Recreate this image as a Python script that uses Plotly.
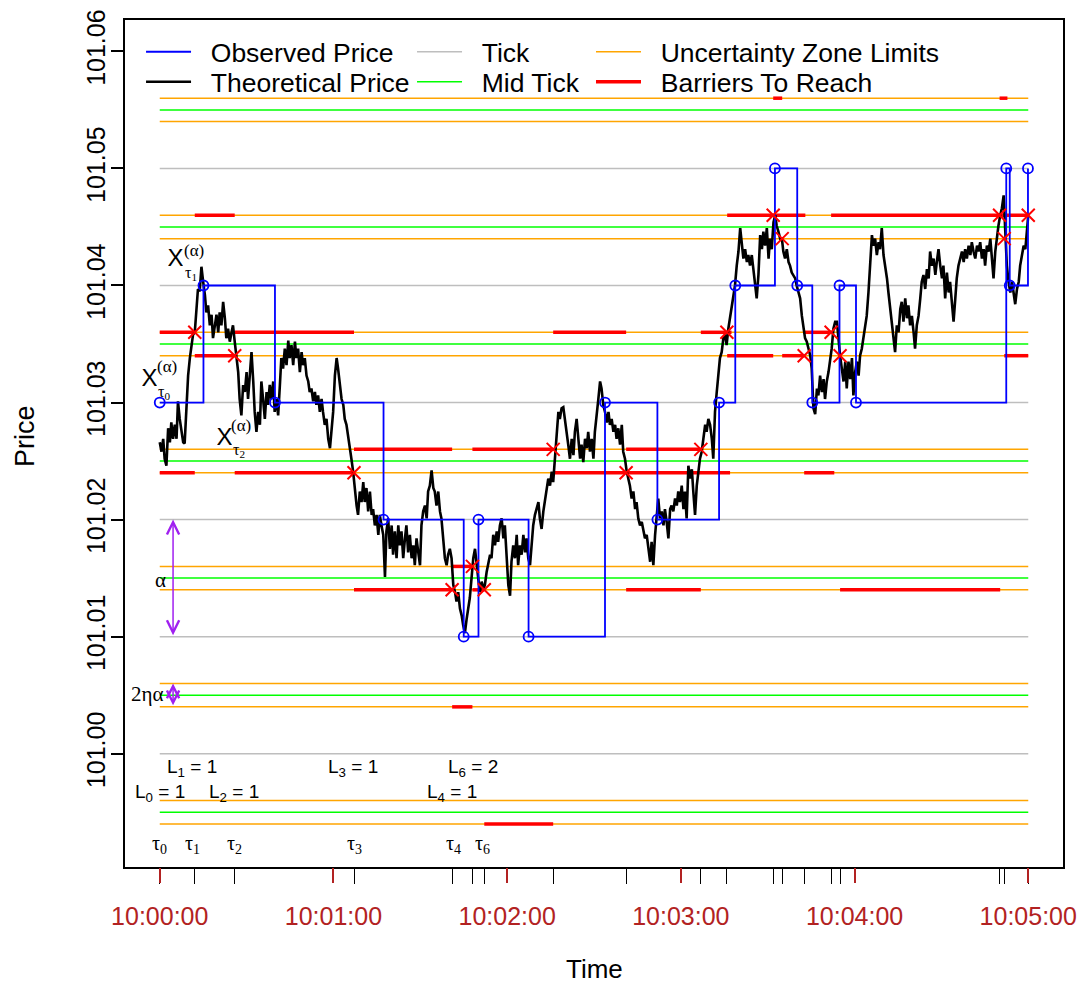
import pandas as pd
import plotly.graph_objects as go

BASE = pd.Timestamp("2024-01-02 10:00:00")


def ts(sec):
    return (BASE + pd.to_timedelta(sec, unit="s")).strftime("%Y-%m-%d %H:%M:%S.%f")


T_START, T_END = 0.0, 300.0
X_PAD = 12.0
Y_RANGE = [100.99032, 101.06268]

# ---------------- theoretical price (seconds after 10:00:00, price) ----------------
theo_t_a = [0.0, 0.6, 1.2, 1.7, 2.3, 2.9, 3.5, 4.0, 4.6, 5.2, 5.8, 6.3, 6.9, 7.5, 8.1, 8.6, 9.2, 9.8, 10.4, 10.9,
            11.5, 12.1, 12.7, 13.2, 13.8, 14.4, 15.0, 15.6, 16.1, 16.7, 17.3, 17.9, 18.4, 19.0, 19.6, 20.2, 20.7, 21.3, 21.9, 22.5,
            23.0, 23.6, 24.2, 24.8, 25.3, 25.9, 26.5, 27.1, 27.6, 28.2, 28.8, 29.4, 30.0, 30.5, 31.1, 31.7, 32.3, 32.8, 33.4, 34.0,
            34.6, 35.1, 35.7, 36.3, 36.9, 37.4, 38.0, 38.6, 39.2, 39.7, 40.3, 40.9, 41.5, 42.0, 42.6, 43.2, 43.8, 44.4, 44.9, 45.5,
            46.1, 46.7, 47.2, 47.8, 48.4, 49.0, 49.5, 50.1, 50.7, 51.3, 51.8, 52.4, 53.0, 53.6, 54.1, 54.7, 55.3, 55.9, 56.4, 57.0,
            57.6, 58.2, 58.8, 59.3, 59.9, 60.5, 61.1, 61.6, 62.2, 62.8, 63.4, 63.9, 64.5, 65.1, 65.7, 66.2, 66.8, 67.4, 68.0, 68.5,
            69.1, 69.7, 70.3, 70.8, 71.4, 72.0, 72.6, 73.2, 73.7, 74.3, 74.9, 75.5, 76.0, 76.6, 77.2, 77.8, 78.3, 78.9, 79.5, 80.1,
            80.6, 81.2, 81.8, 82.4, 82.9, 83.5, 84.1, 84.7, 85.2, 85.8, 86.4, 87.0, 87.6, 88.1, 88.7, 89.3, 89.9, 90.4, 91.0, 91.6,
            92.2, 92.7, 93.3, 93.9, 94.5, 95.0, 95.6, 96.2, 96.8, 97.3, 97.9, 98.5, 99.1, 99.6]
theo_p_a = [101.0266, 101.0258, 101.0269, 101.0252, 101.0246, 101.0278, 101.0266, 101.0283, 101.0269, 101.0281,
            101.0269, 101.0301, 101.0286, 101.0275, 101.0266, 101.0265, 101.0295, 101.0323, 101.0338, 101.0349,
            101.0358, 101.0360, 101.0380, 101.0397, 101.0395, 101.0416, 101.0403, 101.0392, 101.0377, 101.0383,
            101.0366, 101.0375, 101.0355, 101.0366, 101.0375, 101.0360, 101.0377, 101.0366, 101.0386, 101.0372,
            101.0355, 101.0363, 101.0352, 101.0360, 101.0366, 101.0352, 101.0338, 101.0326, 101.0303, 101.0289,
            101.0315, 101.0309, 101.0326, 101.0303, 101.0323, 101.0343, 101.0318, 101.0292, 101.0275, 101.0292,
            101.0281, 101.0318, 101.0303, 101.0286, 101.0309, 101.0298, 101.0315, 101.0303, 101.0318, 101.0292,
            101.0303, 101.0289, 101.0315, 101.0338, 101.0329, 101.0346, 101.0332, 101.0353, 101.0338, 101.0349,
            101.0332, 101.0352, 101.0338, 101.0346, 101.0326, 101.0343, 101.0332, 101.0338, 101.0323, 101.0318,
            101.0309, 101.0312, 101.0301, 101.0309, 101.0298, 101.0306, 101.0292, 101.0303, 101.0292, 101.0281,
            101.0286, 101.0269, 101.0261, 101.0275, 101.0292, 101.0323, 101.0338, 101.0329, 101.0315, 101.0303,
            101.0298, 101.0286, 101.0281, 101.0269, 101.0258, 101.0252, 101.0241, 101.0224, 101.0212, 101.0204,
            101.0224, 101.0215, 101.0232, 101.0215, 101.0227, 101.0207, 101.0224, 101.0204, 101.0209, 101.0195,
            101.0204, 101.0187, 101.0204, 101.0195, 101.0187, 101.0151, 101.0190, 101.0201, 101.0175, 101.0195,
            101.0170, 101.0190, 101.0167, 101.0195, 101.0178, 101.0190, 101.0167, 101.0184, 101.0195, 101.0172,
            101.0187, 101.0167, 101.0178, 101.0161, 101.0184, 101.0172, 101.0161, 101.0195, 101.0207, 101.0212,
            101.0201, 101.0224, 101.0229, 101.0242, 101.0227, 101.0224, 101.0212, 101.0224, 101.0207, 101.0201,
            101.0184, 101.0167, 101.0161, 101.0170]

theo_t_b = [100.2, 100.8, 101.4, 102.0, 102.5, 103.1, 103.7, 104.3, 104.8, 105.4,
            106.0, 106.6, 107.1, 107.7, 108.3, 108.9, 109.4, 110.0, 110.6, 111.2,
            111.8, 112.3, 112.9, 113.5, 114.1, 114.6, 115.2, 115.8, 116.4, 116.9,
            117.5, 118.1, 118.7, 119.2, 119.8, 120.4, 121.0, 121.5, 122.1, 122.7,
            123.3, 123.8, 124.4, 125.0, 125.6, 126.2, 126.7, 127.3, 127.9, 128.5,
            129.0, 129.6, 130.2, 130.8, 131.3, 131.9, 132.5, 133.1, 133.6, 134.2,
            134.8, 135.4, 135.9, 136.5, 137.1, 137.7, 138.2, 138.8, 139.4, 140.0,
            140.6, 141.1, 141.7, 142.3, 142.9, 143.4, 144.0, 144.6, 145.2, 145.7,
            146.3, 146.9, 147.5, 148.0, 148.6, 149.2, 149.8, 150.3, 150.9, 151.5,
            152.1, 152.6, 153.2, 153.8, 154.4, 155.0, 155.5, 156.1, 156.7, 157.3,
            157.8, 158.4, 159.0, 159.6, 160.1, 160.7, 161.3, 161.9, 162.4, 163.0,
            163.6, 164.2, 164.7, 165.3, 165.9, 166.5, 167.0, 167.6, 168.2, 168.8,
            169.4, 169.9, 170.5, 171.1, 171.7, 172.2, 172.8, 173.4, 174.0, 174.5,
            175.1, 175.7, 176.3, 176.8, 177.4, 178.0, 178.6, 179.1, 179.7, 180.3,
            180.9, 181.4, 182.0, 182.6, 183.2, 183.8, 184.3, 184.9, 185.5, 186.1,
            186.6, 187.2, 187.8, 188.4, 188.9, 189.5, 190.1, 190.7, 191.2, 191.8,
            192.4, 193.0, 193.5, 194.1, 194.7, 195.3, 195.8, 196.4, 197.0, 197.6,
            198.2, 198.7, 199.3, 199.9, 200.5, 201.0, 201.6, 202.2, 202.8, 203.3, 203.9]
theo_p_b = [101.0175, 101.0167, 101.0144, 101.0138, 101.0130, 101.0138, 101.0124, 101.0118, 101.0110, 101.0103,
            101.0115, 101.0124, 101.0133, 101.0150, 101.0167, 101.0175, 101.0161, 101.0150, 101.0138, 101.0147,
            101.0141, 101.0144, 101.0155, 101.0164, 101.0170, 101.0167, 101.0187, 101.0178, 101.0190, 101.0181,
            101.0195, 101.0201, 101.0184, 101.0195, 101.0167, 101.0144, 101.0135, 101.0164, 101.0178, 101.0167,
            101.0187, 101.0161, 101.0178, 101.0170, 101.0187, 101.0172, 101.0184, 101.0167, 101.0161, 101.0178,
            101.0195, 101.0204, 101.0209, 101.0215, 101.0201, 101.0192, 101.0207, 101.0218, 101.0227, 101.0235,
            101.0229, 101.0241, 101.0232, 101.0252, 101.0269, 101.0292, 101.0286, 101.0295, 101.0296, 101.0283,
            101.0275, 101.0264, 101.0252, 101.0269, 101.0255, 101.0275, 101.0286, 101.0269, 101.0252, 101.0264,
            101.0249, 101.0269, 101.0261, 101.0275, 101.0258, 101.0269, 101.0252, 101.0275, 101.0292, 101.0303,
            101.0318, 101.0312, 101.0298, 101.0292, 101.0283, 101.0292, 101.0281, 101.0286, 101.0275, 101.0281,
            101.0269, 101.0278, 101.0264, 101.0281, 101.0258, 101.0252, 101.0241, 101.0235, 101.0229, 101.0218,
            101.0224, 101.0209, 101.0215, 101.0201, 101.0195, 101.0198, 101.0190, 101.0184, 101.0187, 101.0175,
            101.0164, 101.0181, 101.0161, 101.0187, 101.0201, 101.0218, 101.0201, 101.0207, 101.0195, 101.0209,
            101.0198, 101.0184, 101.0209, 101.0212, 101.0207, 101.0218, 101.0212, 101.0224, 101.0215, 101.0229,
            101.0209, 101.0224, 101.0201, 101.0246, 101.0235, 101.0243, 101.0224, 101.0204, 101.0229, 101.0241,
            101.0252, 101.0258, 101.0272, 101.0281, 101.0275, 101.0286, 101.0281, 101.0269, 101.0252, 101.0292,
            101.0309, 101.0329, 101.0338, 101.0343, 101.0355, 101.0358, 101.0349, 101.0363, 101.0372, 101.0383,
            101.0389, 101.0400, 101.0417, 101.0429, 101.0449, 101.0434, 101.0423, 101.0431, 101.0420, 101.0426,
            101.0417]

theo_t_c = [204.5, 205.1, 205.6, 206.2, 206.8, 207.4,
            208.0, 208.5, 209.1, 209.7, 210.3, 210.8, 211.4, 212.0, 212.6, 213.1,
            213.7, 214.3, 214.9, 215.4, 216.0, 216.6, 217.2, 217.7, 218.3, 218.9,
            219.5, 220.0, 220.6, 221.2, 221.8, 222.3, 222.9, 223.5, 224.1, 224.7,
            225.2, 225.8, 226.4, 227.0, 227.5, 228.1, 228.7, 229.3, 229.8, 230.4,
            231.0, 231.6, 232.1, 232.7, 233.3, 233.9, 234.4, 235.0, 235.6, 236.2,
            236.8, 237.3, 237.9, 238.5, 239.1, 239.6, 240.2, 240.8, 241.4, 241.9,
            242.5, 243.1, 243.7, 244.2, 244.8, 245.4, 246.0, 246.5, 247.1, 247.7,
            248.3, 248.8, 249.4, 250.0, 250.6, 251.2, 251.7, 252.3, 252.9, 253.5,
            254.0, 254.6, 255.2, 255.8, 256.3, 256.9, 257.5, 258.1, 258.6, 259.2,
            259.8, 260.4, 260.9, 261.5, 262.1, 262.7, 263.2, 263.8, 264.4, 265.0,
            265.6, 266.1, 266.7, 267.3, 267.9, 268.4, 269.0, 269.6, 270.2, 270.7,
            271.3, 271.9, 272.5, 273.0, 273.6, 274.2, 274.8, 275.3, 275.9, 276.5,
            277.1, 277.7, 278.2, 278.8, 279.4, 280.0, 280.5, 281.1, 281.7, 282.3,
            282.8, 283.4, 284.0, 284.6, 285.1, 285.7, 286.3, 286.9, 287.4, 288.0,
            288.6, 289.2, 289.7, 290.3, 290.9, 291.5, 292.0, 292.6, 293.2, 293.8,
            294.4, 294.9, 295.5, 296.1, 296.7, 297.2, 297.8, 298.4, 299.0, 299.5, 300.0]
theo_p_c = [101.0426, 101.0414, 101.0403, 101.0389, 101.0409, 101.0443, 101.0431, 101.0446, 101.0434, 101.0449,
            101.0423, 101.0440, 101.0431, 101.0454, 101.0460, 101.0451, 101.0446, 101.0440, 101.0440, 101.0429,
            101.0423, 101.0431, 101.0420, 101.0417, 101.0411, 101.0409, 101.0406, 101.0400, 101.0394, 101.0389,
            101.0374, 101.0366, 101.0355, 101.0352, 101.0346, 101.0340, 101.0329, 101.0295, 101.0290, 101.0312,
            101.0306, 101.0323, 101.0309, 101.0320, 101.0303, 101.0318, 101.0326, 101.0335, 101.0346, 101.0363,
            101.0369, 101.0369, 101.0352, 101.0340, 101.0329, 101.0318, 101.0335, 101.0312, 101.0335, 101.0320,
            101.0338, 101.0306, 101.0326, 101.0335, 101.0323, 101.0340, 101.0346, 101.0357, 101.0369, 101.0374,
            101.0394, 101.0417, 101.0443, 101.0434, 101.0440, 101.0426, 101.0437, 101.0431, 101.0449, 101.0426,
            101.0417, 101.0406, 101.0394, 101.0380, 101.0366, 101.0357, 101.0343, 101.0366, 101.0360, 101.0380,
            101.0386, 101.0369, 101.0389, 101.0372, 101.0383, 101.0366, 101.0374, 101.0360, 101.0346, 101.0366,
            101.0374, 101.0389, 101.0403, 101.0409, 101.0397, 101.0414, 101.0406, 101.0429, 101.0417, 101.0423,
            101.0409, 101.0420, 101.0431, 101.0417, 101.0406, 101.0417, 101.0389, 101.0411, 101.0394, 101.0403,
            101.0386, 101.0369, 101.0389, 101.0406, 101.0417, 101.0423, 101.0429, 101.0420, 101.0431, 101.0423,
            101.0434, 101.0426, 101.0437, 101.0429, 101.0423, 101.0434, 101.0429, 101.0437, 101.0423, 101.0431,
            101.0417, 101.0434, 101.0429, 101.0440, 101.0426, 101.0406, 101.0429, 101.0443, 101.0451, 101.0460,
            101.0466, 101.0477, 101.0443, 101.0417, 101.0403, 101.0394, 101.0403, 101.0392, 101.0384, 101.0397,
            101.0403, 101.0417, 101.0426, 101.0434, 101.0431, 101.0449, 101.0460]

# ---------------- observed price (step) ----------------
obs_t = [0.0, 15.1, 39.8, 77.3, 105.0, 110.1, 127.4, 153.8, 171.9, 193.2, 198.8, 212.5, 220.2, 225.4,
         234.8, 240.5, 292.4, 293.6, 299.9]
obs_p = [101.03, 101.04, 101.03, 101.02, 101.01, 101.02, 101.01, 101.03, 101.02, 101.03, 101.04, 101.05,
         101.04, 101.03, 101.04, 101.03, 101.05, 101.04, 101.05]

# ---------------- barrier hitting times tau_i and crossing prices ----------------
tau_t = [0.0, 12.1, 25.9, 67.1, 101.0, 108.0, 112.1, 135.9, 161.1, 186.9, 195.9, 211.9, 215.0, 222.6,
         231.9, 235.0, 290.1, 291.7, 300.0]
cross_p = [101.036, 101.034, 101.024, 101.014, 101.016, 101.014, 101.026, 101.024, 101.026, 101.036,
           101.046, 101.044, 101.034, 101.036, 101.034, 101.046, 101.044, 101.046]

# ---------------- horizontal reference levels ----------------
tick_levels = [101.00, 101.01, 101.02, 101.03, 101.04, 101.05]
mid_levels = [100.995, 101.005, 101.015, 101.025, 101.035, 101.045, 101.055]
zone_levels = [100.994, 100.996, 101.004, 101.006, 101.014, 101.016, 101.024, 101.026,
               101.034, 101.036, 101.044, 101.046, 101.054, 101.056]

# ---------------- barriers to reach (start s, end s, level) ----------------
bar_start = [0.0, 0.0, 12.1, 12.1, 25.9, 25.9, 67.1, 67.1, 101.0, 101.0, 108.0, 108.0, 112.1, 135.9,
             135.9, 161.1, 161.1, 186.9, 196.0, 196.0, 211.9, 215.0, 222.6, 222.6, 231.9, 235.0, 290.1, 291.7]
bar_end = [12.1, 12.1, 25.9, 25.9, 67.1, 67.1, 101.0, 101.0, 108.0, 108.0, 135.9, 112.1, 135.9, 161.1,
           197.0, 186.9, 186.9, 197.5, 223.0, 211.9, 215.0, 222.6, 231.9, 233.0, 300.0, 290.3, 292.8, 300.0]
bar_level = [101.036, 101.024, 101.046, 101.034, 101.036, 101.024, 101.026, 101.014, 101.016, 101.004,
             101.026, 101.014, 100.994, 101.036, 101.024, 101.026, 101.014, 101.036, 101.046, 101.034,
             101.056, 101.034, 101.036, 101.024, 101.046, 101.014, 101.056, 101.034]

minute_t = [0, 60, 120, 180, 240, 300]
minute_labels = ["10:00:00", "10:01:00", "10:02:00", "10:03:00", "10:04:00", "10:05:00"]

SANS = "Liberation Sans, Arial, sans-serif"
SERIF = "Liberation Serif, Times New Roman, serif"
FIRE = "#B22222"
PAD = "\u00a0\u00a0"  # gap between legend key and its label


def hlines(levels):
    xs, ys = [], []
    for lv in levels:
        xs += [ts(T_START), ts(T_END), None]
        ys += [lv, lv, None]
    return xs, ys


fig = go.Figure()

gx, gy = hlines(tick_levels)
fig.add_trace(go.Scatter(x=gx, y=gy, mode="lines", name=PAD + "Tick", legend="legend3",
                         line=dict(color="#BEBEBE", width=1.5), hoverinfo="skip"))
mx, my = hlines(mid_levels)
fig.add_trace(go.Scatter(x=mx, y=my, mode="lines", name=PAD + "Mid Tick", legend="legend4",
                         line=dict(color="#00FF00", width=1.5), hoverinfo="skip"))
ox, oy = hlines(zone_levels)
fig.add_trace(go.Scatter(x=ox, y=oy, mode="lines", name=PAD + "Uncertainty Zone Limits", legend="legend5",
                         line=dict(color="#FFA500", width=1.5), hoverinfo="skip"))

bx, by = [], []
for s, e, lv in zip(bar_start, bar_end, bar_level):
    bx += [ts(s), ts(e), None]
    by += [lv, lv, None]
fig.add_trace(go.Scatter(x=bx, y=by, mode="lines", name=PAD + "Barriers To Reach", legend="legend6",
                         line=dict(color="#FF0000", width=3.5), hoverinfo="skip"))

theo_t = theo_t_a + theo_t_b + theo_t_c
theo_p = theo_p_a + theo_p_b + theo_p_c
fig.add_trace(go.Scatter(x=[ts(t) for t in theo_t], y=theo_p, mode="lines", name=PAD + "Theoretical Price",
                         legend="legend2", line=dict(color="black", width=2.6)))

fig.add_trace(go.Scatter(x=[ts(t) for t in obs_t], y=obs_p, mode="lines", name=PAD + "Observed Price",
                         legend="legend", line=dict(color="#0000FF", width=1.8, shape="hv")))
fig.add_trace(go.Scatter(x=[ts(t) for t in obs_t], y=obs_p, mode="markers", showlegend=False,
                         marker=dict(symbol="circle-open", size=10, color="#0000FF",
                                     line=dict(width=1.8, color="#0000FF"))))
fig.add_trace(go.Scatter(x=[ts(t) for t in tau_t[1:]], y=cross_p, mode="markers", showlegend=False,
                         marker=dict(symbol="x-thin", size=13, color="#FF0000",
                                     line=dict(width=2, color="#FF0000"))))
# invisible trace carrying the minute axis
fig.add_trace(go.Scatter(x=[ts(T_START)], y=[tick_levels[0]], xaxis="x2", mode="markers",
                         marker=dict(opacity=0), showlegend=False, hoverinfo="skip"))

xr = [ts(T_START - X_PAD), ts(T_END + X_PAD)]

ann = []
# X^(alpha)_tau labels
for xc, yc, sx, sy, bx_, by_, sub in [
    (-3.4, 101.0322, 2.4, 101.0331, 1.3, 101.0309, "0"),
    (5.5, 101.0424, 11.8, 101.0430, 10.7, 101.0410, "1"),
    (22.2, 101.0271, 28.2, 101.0280, 27.4, 101.0259, "2"),
]:
    ann.append(dict(x=ts(xc), y=yc, text="X", showarrow=False, height=18, width=15, borderpad=0,
                    font=dict(family=SANS, size=24, color="black")))
    ann.append(dict(x=ts(sx), y=sy, text="(α)", showarrow=False, font=dict(family=SERIF, size=17, color="black")))
    ann.append(dict(x=ts(bx_), y=by_, text="τ<sub>" + sub + "</sub>", showarrow=False, borderpad=0,
                    font=dict(family=SERIF, size=16, color="black")))

# alpha arrows
for y_hi, y_lo in [(101.02, 101.01), (101.006, 101.004)]:
    ann.append(dict(x=ts(4.6), y=y_hi, ax=ts(4.6), ay=y_lo, axref="x", ayref="y", text="", showarrow=True,
                    arrowside="end+start", arrowhead=5, startarrowhead=5, arrowsize=1.6, startarrowsize=1.6,
                    arrowwidth=1.5, arrowcolor="#A020F0", standoff=0, startstandoff=0))
ann.append(dict(x=ts(0.35), y=101.0148, text="α", showarrow=False, font=dict(family=SERIF, size=21, color="black")))
ann.append(dict(x=ts(-4.3), y=101.0051, text="2ηα", showarrow=False, font=dict(family=SERIF, size=21, color="black")))

# L labels
for xc, yc, txt in [(0.0, 100.99665, "L<sub>0</sub> = 1"), (11.2, 100.99880, "L<sub>1</sub> = 1"),
                    (25.6, 100.99665, "L<sub>2</sub> = 1"), (66.7, 100.99880, "L<sub>3</sub> = 1"),
                    (101.1, 100.99665, "L<sub>4</sub> = 1"), (108.3, 100.99880, "L<sub>6</sub> = 2")]:
    ann.append(dict(x=ts(xc), y=yc, text=txt, showarrow=False, height=20, borderpad=0,
                    font=dict(family=SANS, size=19, color="black")))

# tau labels
for xc, sub in [(0.0, "0"), (11.2, "1"), (25.9, "2"), (67.1, "3"), (101.3, "4"), (111.6, "6")]:
    ann.append(dict(x=ts(xc), y=100.99227, text="τ<sub>" + sub + "</sub>", showarrow=False,
                    font=dict(family=SERIF, size=20, color="black")))

# axis titles
ann.append(dict(xref="paper", yref="paper", x=-0.1066, y=0.5089, xanchor="center", yanchor="middle",
                text="Price", textangle=-90, showarrow=False, font=dict(family=SANS, size=27, color="black")))
ann.append(dict(xref="paper", yref="paper", x=0.501, y=-0.1204, xanchor="center", yanchor="middle",
                text="Time", showarrow=False, font=dict(family=SANS, size=26, color="black")))


def leg(x, y):
    return dict(x=x, y=y, xanchor="left", yanchor="middle", bgcolor="rgba(0,0,0,0)", borderwidth=0,
                font=dict(family=SANS, size=26.5, color="black"), itemwidth=45, orientation="v")


ROW1, ROW2 = 0.9622, 0.9268
COL1, COL2, COL3 = 0.0171, 0.3060, 0.4968

fig.update_layout(
    width=1082, height=986,
    margin=dict(l=125, r=19, t=20, b=119, autoexpand=False),
    paper_bgcolor="white", plot_bgcolor="white",
    showlegend=True,
    legend=leg(COL1, ROW1), legend2=leg(COL1, ROW2),
    legend3=leg(COL2, ROW1), legend4=leg(COL2, ROW2),
    legend5=leg(COL3, ROW1), legend6=leg(COL3, ROW2),
    xaxis=dict(type="date", range=xr, tickvals=[ts(t) for t in tau_t], ticks="outside", ticklen=15,
               tickwidth=1.2, tickcolor="black", showticklabels=False, showgrid=False, zeroline=False,
               showline=True, linecolor="black", linewidth=2, mirror=True),
    xaxis2=dict(type="date", range=xr, overlaying="x", anchor="y", side="bottom",
                tickvals=[ts(t) for t in minute_t], ticktext=minute_labels, ticks="outside", ticklen=15,
                tickwidth=1.5, tickcolor=FIRE, tickfont=dict(family=SANS, size=25, color=FIRE),
                showgrid=False, zeroline=False, showline=False, ticklabelstandoff=12),
    yaxis=dict(range=Y_RANGE, tickvals=[101.00, 101.01, 101.02, 101.03, 101.04, 101.05, 101.06],
               ticktext=["101.00", "101.01", "101.02", "101.03", "101.04", "101.05", "101.06"],
               tickangle=-90, ticks="outside", ticklen=12, tickwidth=1.5, tickcolor="black",
               tickfont=dict(family=SANS, size=25, color="black"), showgrid=False, zeroline=False,
               showline=True, linecolor="black", linewidth=2, mirror=True, ticklabelstandoff=-4),
    annotations=ann,
)

fig.write_html("out.html")
